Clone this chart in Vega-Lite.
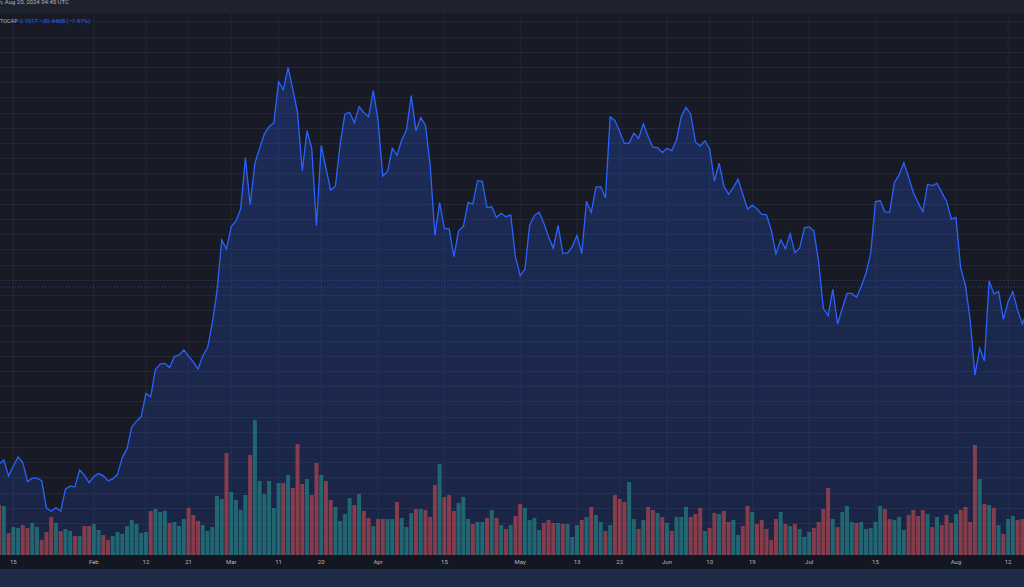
{
  "$schema": "https://vega.github.io/schema/vega-lite/v6.json",
  "width": 1024,
  "height": 556,
  "autosize": {"type": "none"},
  "padding": {"left": 0, "top": 13, "right": 0, "bottom": 18},
  "background": "#1e222d",
  "title": {
    "text": "TradingView.com, Aug 20, 2024 04:45 UTC",
    "anchor": "start", "frame": "group", "dx": -44, "offset": 3, "baseline": "alphabetic",
    "font": "Roboto", "fontSize": 6, "fontWeight": "normal", "color": "#b2b5be"
  },
  "datasets": {
    "ticks": [
      {"t": "2024-01-15", "lab": "15"}, {"t": "2024-02-01", "lab": "Feb"}, {"t": "2024-02-12", "lab": "12"},
      {"t": "2024-02-21", "lab": "21"}, {"t": "2024-03-01", "lab": "Mar"}, {"t": "2024-03-11", "lab": "11"},
      {"t": "2024-03-20", "lab": "20"}, {"t": "2024-04-01", "lab": "Apr"}, {"t": "2024-04-15", "lab": "15"},
      {"t": "2024-05-01", "lab": "May"}, {"t": "2024-05-13", "lab": "13"}, {"t": "2024-05-22", "lab": "22"},
      {"t": "2024-06-01", "lab": "Jun"}, {"t": "2024-06-10", "lab": "10"}, {"t": "2024-06-19", "lab": "19"},
      {"t": "2024-07-01", "lab": "Jul"}, {"t": "2024-07-15", "lab": "15"}, {"t": "2024-08-01", "lab": "Aug"},
      {"t": "2024-08-12", "lab": "12"}
    ],
    "cap": [
      {"d":"2024-01-12","c":1.635,"v":100,"s":"dn"},{"d":"2024-01-13","c":1.646,"v":98,"s":"up"},
      {"d":"2024-01-14","c":1.604,"v":44,"s":"dn"},{"d":"2024-01-15","c":1.630,"v":56,"s":"up"},
      {"d":"2024-01-16","c":1.654,"v":54,"s":"up"},{"d":"2024-01-17","c":1.639,"v":60,"s":"dn"},
      {"d":"2024-01-18","c":1.589,"v":54,"s":"dn"},{"d":"2024-01-19","c":1.598,"v":64,"s":"up"},
      {"d":"2024-01-20","c":1.598,"v":56,"s":"up"},{"d":"2024-01-21","c":1.591,"v":30,"s":"dn"},
      {"d":"2024-01-22","c":1.519,"v":46,"s":"dn"},{"d":"2024-01-23","c":1.511,"v":76,"s":"dn"},
      {"d":"2024-01-24","c":1.520,"v":64,"s":"up"},{"d":"2024-01-25","c":1.511,"v":48,"s":"dn"},
      {"d":"2024-01-26","c":1.569,"v":52,"s":"up"},{"d":"2024-01-27","c":1.577,"v":48,"s":"up"},
      {"d":"2024-01-28","c":1.575,"v":38,"s":"dn"},{"d":"2024-01-29","c":1.619,"v":38,"s":"up"},
      {"d":"2024-01-30","c":1.606,"v":58,"s":"dn"},{"d":"2024-01-31","c":1.586,"v":58,"s":"dn"},
      {"d":"2024-02-01","c":1.602,"v":62,"s":"up"},{"d":"2024-02-02","c":1.610,"v":50,"s":"up"},
      {"d":"2024-02-03","c":1.604,"v":40,"s":"dn"},{"d":"2024-02-04","c":1.591,"v":30,"s":"dn"},
      {"d":"2024-02-05","c":1.596,"v":38,"s":"up"},{"d":"2024-02-06","c":1.608,"v":46,"s":"up"},
      {"d":"2024-02-07","c":1.652,"v":42,"s":"up"},{"d":"2024-02-08","c":1.675,"v":58,"s":"up"},
      {"d":"2024-02-09","c":1.732,"v":70,"s":"up"},{"d":"2024-02-10","c":1.748,"v":62,"s":"up"},
      {"d":"2024-02-11","c":1.760,"v":44,"s":"up"},{"d":"2024-02-12","c":1.821,"v":46,"s":"up"},
      {"d":"2024-02-13","c":1.812,"v":88,"s":"dn"},{"d":"2024-02-14","c":1.884,"v":92,"s":"up"},
      {"d":"2024-02-15","c":1.898,"v":86,"s":"up"},{"d":"2024-02-16","c":1.900,"v":88,"s":"up"},
      {"d":"2024-02-17","c":1.889,"v":64,"s":"dn"},{"d":"2024-02-18","c":1.918,"v":66,"s":"up"},
      {"d":"2024-02-19","c":1.922,"v":58,"s":"up"},{"d":"2024-02-20","c":1.935,"v":72,"s":"up"},
      {"d":"2024-02-21","c":1.919,"v":94,"s":"dn"},{"d":"2024-02-22","c":1.904,"v":80,"s":"dn"},
      {"d":"2024-02-23","c":1.885,"v":68,"s":"dn"},{"d":"2024-02-24","c":1.920,"v":60,"s":"up"},
      {"d":"2024-02-25","c":1.941,"v":48,"s":"up"},{"d":"2024-02-26","c":2.005,"v":56,"s":"up"},
      {"d":"2024-02-27","c":2.091,"v":118,"s":"up"},{"d":"2024-02-28","c":2.225,"v":112,"s":"up"},
      {"d":"2024-02-29","c":2.201,"v":204,"s":"dn"},{"d":"2024-03-01","c":2.260,"v":126,"s":"up"},
      {"d":"2024-03-02","c":2.275,"v":110,"s":"up"},{"d":"2024-03-03","c":2.306,"v":90,"s":"up"},
      {"d":"2024-03-04","c":2.442,"v":120,"s":"up"},{"d":"2024-03-05","c":2.317,"v":200,"s":"dn"},
      {"d":"2024-03-06","c":2.427,"v":270,"s":"up"},{"d":"2024-03-07","c":2.466,"v":148,"s":"up"},
      {"d":"2024-03-08","c":2.504,"v":122,"s":"up"},{"d":"2024-03-09","c":2.523,"v":148,"s":"up"},
      {"d":"2024-03-10","c":2.533,"v":94,"s":"up"},{"d":"2024-03-11","c":2.641,"v":144,"s":"up"},
      {"d":"2024-03-12","c":2.620,"v":144,"s":"dn"},{"d":"2024-03-13","c":2.679,"v":160,"s":"up"},
      {"d":"2024-03-14","c":2.622,"v":134,"s":"dn"},{"d":"2024-03-15","c":2.560,"v":222,"s":"dn"},
      {"d":"2024-03-16","c":2.407,"v":142,"s":"dn"},{"d":"2024-03-17","c":2.512,"v":152,"s":"up"},
      {"d":"2024-03-18","c":2.466,"v":120,"s":"dn"},{"d":"2024-03-19","c":2.262,"v":184,"s":"dn"},
      {"d":"2024-03-20","c":2.474,"v":160,"s":"up"},{"d":"2024-03-21","c":2.413,"v":148,"s":"dn"},
      {"d":"2024-03-22","c":2.356,"v":110,"s":"dn"},{"d":"2024-03-23","c":2.367,"v":96,"s":"up"},
      {"d":"2024-03-24","c":2.477,"v":68,"s":"up"},{"d":"2024-03-25","c":2.556,"v":82,"s":"up"},
      {"d":"2024-03-26","c":2.561,"v":114,"s":"up"},{"d":"2024-03-27","c":2.533,"v":100,"s":"dn"},
      {"d":"2024-03-28","c":2.576,"v":122,"s":"up"},{"d":"2024-03-29","c":2.560,"v":88,"s":"dn"},
      {"d":"2024-03-30","c":2.549,"v":74,"s":"dn"},{"d":"2024-03-31","c":2.618,"v":58,"s":"up"},
      {"d":"2024-04-01","c":2.539,"v":72,"s":"dn"},{"d":"2024-04-02","c":2.393,"v":72,"s":"dn"},
      {"d":"2024-04-03","c":2.405,"v":72,"s":"up"},{"d":"2024-04-04","c":2.466,"v":72,"s":"up"},
      {"d":"2024-04-05","c":2.448,"v":106,"s":"dn"},{"d":"2024-04-06","c":2.488,"v":74,"s":"up"},
      {"d":"2024-04-07","c":2.514,"v":56,"s":"up"},{"d":"2024-04-08","c":2.605,"v":84,"s":"up"},
      {"d":"2024-04-09","c":2.512,"v":92,"s":"dn"},{"d":"2024-04-10","c":2.547,"v":92,"s":"up"},
      {"d":"2024-04-11","c":2.527,"v":90,"s":"dn"},{"d":"2024-04-12","c":2.422,"v":76,"s":"dn"},
      {"d":"2024-04-13","c":2.237,"v":140,"s":"dn"},{"d":"2024-04-14","c":2.323,"v":182,"s":"up"},
      {"d":"2024-04-15","c":2.255,"v":116,"s":"dn"},{"d":"2024-04-16","c":2.254,"v":120,"s":"dn"},
      {"d":"2024-04-17","c":2.181,"v":88,"s":"dn"},{"d":"2024-04-18","c":2.249,"v":104,"s":"up"},
      {"d":"2024-04-19","c":2.260,"v":116,"s":"up"},{"d":"2024-04-20","c":2.324,"v":72,"s":"up"},
      {"d":"2024-04-21","c":2.319,"v":62,"s":"dn"},{"d":"2024-04-22","c":2.381,"v":66,"s":"up"},
      {"d":"2024-04-23","c":2.379,"v":66,"s":"up"},{"d":"2024-04-24","c":2.310,"v":74,"s":"dn"},
      {"d":"2024-04-25","c":2.312,"v":90,"s":"up"},{"d":"2024-04-26","c":2.284,"v":74,"s":"dn"},
      {"d":"2024-04-27","c":2.295,"v":60,"s":"up"},{"d":"2024-04-28","c":2.286,"v":52,"s":"dn"},
      {"d":"2024-04-29","c":2.291,"v":60,"s":"up"},{"d":"2024-04-30","c":2.181,"v":78,"s":"dn"},
      {"d":"2024-05-01","c":2.131,"v":102,"s":"dn"},{"d":"2024-05-02","c":2.148,"v":94,"s":"up"},
      {"d":"2024-05-03","c":2.264,"v":70,"s":"up"},{"d":"2024-05-04","c":2.289,"v":74,"s":"up"},
      {"d":"2024-05-05","c":2.298,"v":50,"s":"up"},{"d":"2024-05-06","c":2.269,"v":64,"s":"dn"},
      {"d":"2024-05-07","c":2.233,"v":70,"s":"dn"},{"d":"2024-05-08","c":2.203,"v":64,"s":"dn"},
      {"d":"2024-05-09","c":2.263,"v":64,"s":"up"},{"d":"2024-05-10","c":2.190,"v":62,"s":"dn"},
      {"d":"2024-05-11","c":2.190,"v":62,"s":"up"},{"d":"2024-05-12","c":2.207,"v":36,"s":"up"},
      {"d":"2024-05-13","c":2.237,"v":60,"s":"up"},{"d":"2024-05-14","c":2.189,"v":70,"s":"dn"},
      {"d":"2024-05-15","c":2.327,"v":76,"s":"up"},{"d":"2024-05-16","c":2.297,"v":96,"s":"dn"},
      {"d":"2024-05-17","c":2.364,"v":80,"s":"up"},{"d":"2024-05-18","c":2.365,"v":66,"s":"up"},
      {"d":"2024-05-19","c":2.336,"v":48,"s":"dn"},{"d":"2024-05-20","c":2.549,"v":60,"s":"up"},
      {"d":"2024-05-21","c":2.539,"v":120,"s":"dn"},{"d":"2024-05-22","c":2.510,"v":112,"s":"dn"},
      {"d":"2024-05-23","c":2.479,"v":106,"s":"dn"},{"d":"2024-05-24","c":2.480,"v":146,"s":"up"},
      {"d":"2024-05-25","c":2.506,"v":72,"s":"up"},{"d":"2024-05-26","c":2.492,"v":52,"s":"dn"},
      {"d":"2024-05-27","c":2.531,"v":70,"s":"up"},{"d":"2024-05-28","c":2.498,"v":96,"s":"dn"},
      {"d":"2024-05-29","c":2.469,"v":90,"s":"dn"},{"d":"2024-05-30","c":2.468,"v":84,"s":"up"},
      {"d":"2024-05-31","c":2.455,"v":76,"s":"dn"},{"d":"2024-06-01","c":2.466,"v":64,"s":"up"},
      {"d":"2024-06-02","c":2.460,"v":48,"s":"dn"},{"d":"2024-06-03","c":2.488,"v":76,"s":"up"},
      {"d":"2024-06-04","c":2.549,"v":76,"s":"up"},{"d":"2024-06-05","c":2.574,"v":96,"s":"up"},
      {"d":"2024-06-06","c":2.556,"v":76,"s":"dn"},{"d":"2024-06-07","c":2.483,"v":82,"s":"dn"},
      {"d":"2024-06-08","c":2.472,"v":94,"s":"dn"},{"d":"2024-06-09","c":2.486,"v":48,"s":"up"},
      {"d":"2024-06-10","c":2.465,"v":54,"s":"dn"},{"d":"2024-06-11","c":2.380,"v":84,"s":"dn"},
      {"d":"2024-06-12","c":2.427,"v":82,"s":"up"},{"d":"2024-06-13","c":2.367,"v":88,"s":"dn"},
      {"d":"2024-06-14","c":2.345,"v":66,"s":"dn"},{"d":"2024-06-15","c":2.363,"v":70,"s":"up"},
      {"d":"2024-06-16","c":2.385,"v":40,"s":"up"},{"d":"2024-06-17","c":2.345,"v":58,"s":"dn"},
      {"d":"2024-06-18","c":2.306,"v":98,"s":"dn"},{"d":"2024-06-19","c":2.316,"v":86,"s":"up"},
      {"d":"2024-06-20","c":2.307,"v":62,"s":"dn"},{"d":"2024-06-21","c":2.292,"v":70,"s":"dn"},
      {"d":"2024-06-22","c":2.291,"v":52,"s":"dn"},{"d":"2024-06-23","c":2.251,"v":30,"s":"dn"},
      {"d":"2024-06-24","c":2.188,"v":72,"s":"dn"},{"d":"2024-06-25","c":2.225,"v":86,"s":"up"},
      {"d":"2024-06-26","c":2.202,"v":62,"s":"dn"},{"d":"2024-06-27","c":2.241,"v":58,"s":"up"},
      {"d":"2024-06-28","c":2.191,"v":62,"s":"dn"},{"d":"2024-06-29","c":2.203,"v":52,"s":"up"},
      {"d":"2024-06-30","c":2.257,"v":36,"s":"up"},{"d":"2024-07-01","c":2.259,"v":46,"s":"up"},
      {"d":"2024-07-02","c":2.249,"v":54,"s":"dn"},{"d":"2024-07-03","c":2.167,"v":66,"s":"dn"},
      {"d":"2024-07-04","c":2.045,"v":92,"s":"dn"},{"d":"2024-07-05","c":2.026,"v":134,"s":"dn"},
      {"d":"2024-07-06","c":2.095,"v":72,"s":"up"},{"d":"2024-07-07","c":2.003,"v":56,"s":"dn"},
      {"d":"2024-07-08","c":2.045,"v":86,"s":"up"},{"d":"2024-07-09","c":2.084,"v":98,"s":"up"},
      {"d":"2024-07-10","c":2.084,"v":66,"s":"up"},{"d":"2024-07-11","c":2.074,"v":64,"s":"dn"},
      {"d":"2024-07-12","c":2.102,"v":66,"s":"up"},{"d":"2024-07-13","c":2.137,"v":52,"s":"up"},
      {"d":"2024-07-14","c":2.190,"v":54,"s":"up"},{"d":"2024-07-15","c":2.326,"v":66,"s":"up"},
      {"d":"2024-07-16","c":2.328,"v":98,"s":"up"},{"d":"2024-07-17","c":2.299,"v":92,"s":"dn"},
      {"d":"2024-07-18","c":2.298,"v":72,"s":"dn"},{"d":"2024-07-19","c":2.376,"v":70,"s":"up"},
      {"d":"2024-07-20","c":2.396,"v":76,"s":"up"},{"d":"2024-07-21","c":2.428,"v":50,"s":"up"},
      {"d":"2024-07-22","c":2.390,"v":80,"s":"dn"},{"d":"2024-07-23","c":2.350,"v":90,"s":"dn"},
      {"d":"2024-07-24","c":2.323,"v":78,"s":"dn"},{"d":"2024-07-25","c":2.299,"v":90,"s":"dn"},
      {"d":"2024-07-26","c":2.371,"v":82,"s":"up"},{"d":"2024-07-27","c":2.368,"v":56,"s":"dn"},
      {"d":"2024-07-28","c":2.374,"v":76,"s":"up"},{"d":"2024-07-29","c":2.350,"v":60,"s":"dn"},
      {"d":"2024-07-30","c":2.327,"v":80,"s":"dn"},{"d":"2024-07-31","c":2.280,"v":64,"s":"dn"},
      {"d":"2024-08-01","c":2.284,"v":82,"s":"up"},{"d":"2024-08-02","c":2.150,"v":90,"s":"dn"},
      {"d":"2024-08-03","c":2.106,"v":96,"s":"dn"},{"d":"2024-08-04","c":2.014,"v":66,"s":"dn"},
      {"d":"2024-08-05","c":1.869,"v":220,"s":"dn"},{"d":"2024-08-06","c":1.940,"v":152,"s":"up"},
      {"d":"2024-08-07","c":1.907,"v":102,"s":"dn"},{"d":"2024-08-08","c":2.117,"v":100,"s":"up"},
      {"d":"2024-08-09","c":2.083,"v":94,"s":"dn"},{"d":"2024-08-10","c":2.089,"v":60,"s":"up"},
      {"d":"2024-08-11","c":2.016,"v":42,"s":"dn"},{"d":"2024-08-12","c":2.062,"v":72,"s":"up"},
      {"d":"2024-08-13","c":2.089,"v":78,"s":"up"},{"d":"2024-08-14","c":2.040,"v":70,"s":"dn"},
      {"d":"2024-08-15","c":2.004,"v":72,"s":"dn"},{"d":"2024-08-16","c":2.035,"v":60,"s":"up"}
    ]
  },
  "layer": [
    {
      "data": {"name": "ticks"},
      "mark": {"type": "rule", "color": "#232733", "strokeWidth": 1},
      "encoding": {
        "x": {
          "field": "t", "type": "temporal", "axis": null,
          "scale": {
            "type": "utc", "padding": 0, "nice": false,
            "domain": [
              {"year": 2024, "month": 1, "date": 12, "hours": 4, "minutes": 34, "utc": true},
              {"year": 2024, "month": 8, "date": 15, "hours": 8, "minutes": 38, "utc": true}
            ]
          }
        }
      }
    },
    {
      "data": {"name": "cap"},
      "mark": {
        "type": "area",
        "fill": {
          "gradient": "linear", "x1": 0, "y1": 0, "x2": 0, "y2": 1,
          "stops": [
            {"offset": 0, "color": "rgba(41,98,255,0.24)"},
            {"offset": 1, "color": "rgba(41,98,255,0.03)"}
          ]
        }
      },
      "encoding": {
        "x": {"field": "d", "type": "temporal", "axis": null},
        "y": {
          "field": "c", "type": "quantitative", "title": null,
          "scale": {"domain": [1.3588, 2.8222], "zero": false, "nice": false},
          "axis": {
            "values": [1.40,1.44,1.48,1.52,1.56,1.60,1.64,1.68,1.72,1.76,1.80,1.84,1.88,1.92,1.96,2.00,2.04,2.08,2.12,2.16,2.20,2.24,2.28,2.32,2.36,2.40,2.44,2.48,2.52,2.56,2.60,2.64,2.68,2.72,2.76,2.80],
            "grid": true, "gridColor": "#232733", "gridWidth": 1,
            "labels": false, "ticks": false, "domain": false
          }
        }
      }
    },
    {
      "data": {"values": [{}]},
      "mark": {"type": "rect", "color": "#131722"},
      "encoding": {
        "x": {"datum": {"year": 2024, "month": 1, "date": 11, "utc": true}, "type": "temporal", "axis": null},
        "x2": {"datum": {"year": 2024, "month": 8, "date": 17, "utc": true}},
        "y": {
          "datum": 1.3588, "type": "quantitative", "axis": null,
          "scale": {"domain": [1.3588, 2.8222], "zero": false, "nice": false}
        },
        "y2": {"datum": 1.3957}
      }
    },
    {
      "data": {"name": "ticks"},
      "mark": {"type": "text", "align": "center", "baseline": "middle", "font": "Roboto", "fontSize": 6, "color": "#b2b5be"},
      "encoding": {
        "x": {"field": "t", "type": "temporal", "axis": null},
        "y": {
          "datum": 1.3772, "type": "quantitative", "axis": null,
          "scale": {"domain": [1.3588, 2.8222], "zero": false, "nice": false}
        },
        "text": {"field": "lab"}
      }
    },
    {
      "data": {"name": "cap"},
      "mark": {"type": "bar", "width": 4, "opacity": 0.5},
      "encoding": {
        "x": {"field": "d", "type": "temporal", "axis": null},
        "y": {
          "field": "v", "type": "quantitative", "axis": null,
          "scale": {"domain": [-28, 1084], "nice": false}
        },
        "color": {
          "field": "s", "type": "nominal", "legend": null,
          "scale": {"domain": ["up", "dn"], "range": ["#26a69a", "#ef5350"]}
        }
      }
    },
    {
      "data": {"name": "cap"},
      "mark": {"type": "line", "color": "#2962ff", "strokeWidth": 1.3},
      "encoding": {
        "x": {"field": "d", "type": "temporal", "axis": null},
        "y": {
          "field": "c", "type": "quantitative", "axis": null,
          "scale": {"domain": [1.3588, 2.8222], "zero": false, "nice": false}
        }
      }
    },
    {
      "data": {"values": [{}]},
      "mark": {"type": "rule", "color": "#2962ff", "strokeDash": [1, 2], "opacity": 0.6},
      "encoding": {
        "y": {
          "datum": 2.101, "type": "quantitative", "axis": null,
          "scale": {"domain": [1.3588, 2.8222], "zero": false, "nice": false}
        }
      }
    },
    {
      "data": {"values": [{"t": "TOCAP"}]},
      "mark": {"type": "text", "align": "left", "baseline": "middle", "font": "Roboto", "fontSize": 5.5, "color": "#b2b5be"},
      "encoding": {
        "x": {"datum": {"year": 2024, "month": 1, "date": 12, "hours": 4, "minutes": 34, "utc": true}, "type": "temporal", "axis": null},
        "y": {
          "datum": 2.802, "type": "quantitative", "axis": null,
          "scale": {"domain": [1.3588, 2.8222], "zero": false, "nice": false}
        },
        "text": {"field": "t"}
      }
    },
    {
      "data": {"values": [{"t": "2.101T  −39.446B (−1.91%)"}]},
      "mark": {"type": "text", "align": "left", "baseline": "middle", "dx": 19.5, "font": "Roboto", "fontSize": 6, "color": "#2962ff"},
      "encoding": {
        "x": {"datum": {"year": 2024, "month": 1, "date": 12, "hours": 4, "minutes": 34, "utc": true}, "type": "temporal", "axis": null},
        "y": {
          "datum": 2.802, "type": "quantitative", "axis": null,
          "scale": {"domain": [1.3588, 2.8222], "zero": false, "nice": false}
        },
        "text": {"field": "t"}
      }
    }
  ],
  "resolve": {"scale": {"y": "independent"}},
  "config": {
    "view": {"stroke": null, "fill": "#181b26"}
  }
}
